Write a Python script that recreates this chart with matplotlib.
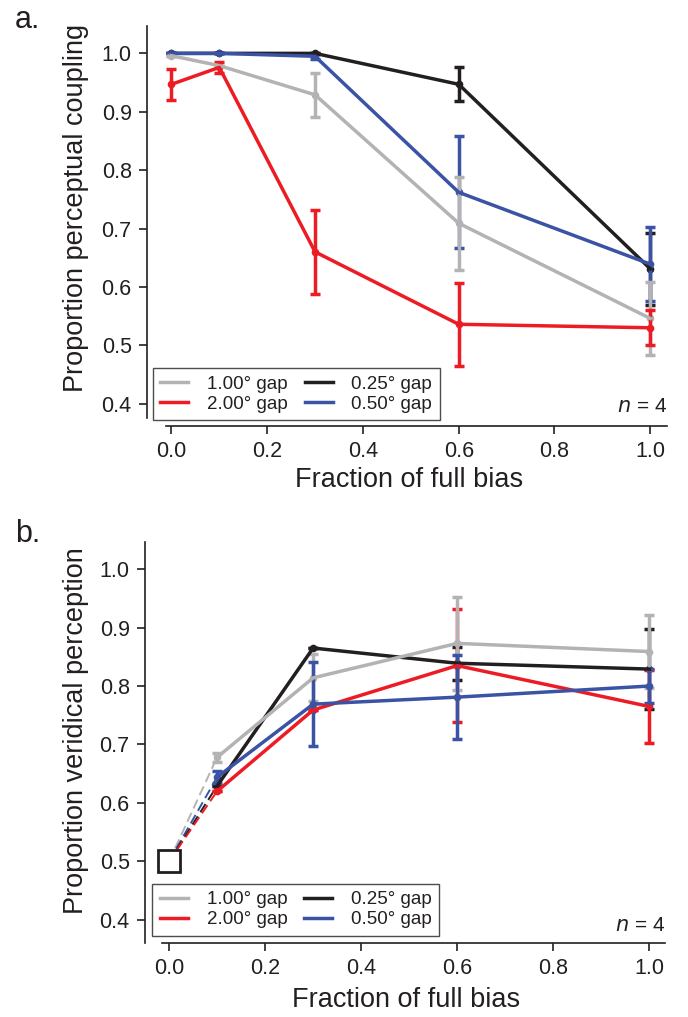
import matplotlib
matplotlib.use("Agg")
import matplotlib.pyplot as plt
from matplotlib.lines import Line2D

plt.rcParams["font.family"] = ["Liberation Sans", "DejaVu Sans"]

# ---------------- data ----------------
gap_labels = ["1.00\u00b0 gap", "2.00\u00b0 gap", "0.25\u00b0 gap", "0.50\u00b0 gap"]
gap_colors = ["#b3b3b3", "#ed1c24", "#231f20", "#3a53a4"]

# panel a: proportion perceptual coupling
x_a = [0.0, 0.1, 0.3, 0.6, 1.0]
gray_a = [0.996, 0.979, 0.929, 0.709, 0.546]
gray_a_err = [0.0, 0.0, 0.038, 0.080, 0.062]
red_a = [0.947, 0.976, 0.660, 0.536, 0.530]
red_a_err = [0.027, 0.010, 0.072, 0.071, 0.030]
black_a = [1.0, 1.0, 1.0, 0.947, 0.631]
black_a_err = [0.0, 0.0, 0.0, 0.029, 0.062]
blue_a = [1.0, 1.0, 0.995, 0.762, 0.639]
blue_a_err = [0.0, 0.0, 0.004, 0.096, 0.063]

# panel b: proportion veridical perception
x_b = [0.1, 0.3, 0.6, 1.0]
gray_b = [0.678, 0.814, 0.873, 0.859]
gray_b_err = [0.008, 0.040, 0.080, 0.063]
red_b = [0.620, 0.759, 0.835, 0.765]
red_b_err = [0.0, 0.0, 0.097, 0.063]
black_b = [0.629, 0.865, 0.839, 0.829]
black_b_err = [0.0, 0.0, 0.028, 0.068]
blue_b = [0.644, 0.769, 0.781, 0.800]
blue_b_err = [0.010, 0.072, 0.072, 0.029]

chance_x, chance_y = 0.0, 0.5
yticks = [0.4, 0.5, 0.6, 0.7, 0.8, 0.9, 1.0]
xticks = [0.0, 0.2, 0.4, 0.6, 0.8, 1.0]

LW = 2.5
TICK_FS = 15.5
LABEL_FS = 19.5
INK = "#231f20"

fig = plt.figure(figsize=(6.88, 10.17), dpi=100)
ax_a = fig.add_axes([0.2408, 0.5893, 0.7294, 0.3852])
ax_b = fig.add_axes([0.2359, 0.0731, 0.7302, 0.3943])


def style_axes(ax, left_out, bottom_out):
    for s in ("top", "right"):
        ax.spines[s].set_visible(False)
    ax.spines["left"].set_position(("outward", left_out))
    ax.spines["bottom"].set_position(("outward", bottom_out))
    for s in ("left", "bottom"):
        ax.spines[s].set_linewidth(1.2)
        ax.spines[s].set_color(INK)
    ax.tick_params(direction="out", length=6, width=1.2, pad=5,
                   labelsize=TICK_FS, color=INK, labelcolor=INK)
    ax.set_xticks(xticks)
    ax.set_xticklabels([f"{t:.1f}" for t in xticks])
    ax.set_yticks(yticks)
    ax.set_yticklabels([f"{t:.1f}" for t in yticks])


def series(ax, x, y, err, color):
    ax.errorbar(x, y, yerr=err, color=color, lw=LW, elinewidth=LW,
                capsize=3.3, capthick=LW, zorder=3)
    ax.plot(x, y, "o", color=color, ms=5.5, mew=0, zorder=3)


def add_legend(ax, anchor):
    handles = [Line2D([], [], color=c, lw=2.5) for c in gap_colors]
    leg = ax.legend(handles, gap_labels, ncol=2, loc="lower left",
                    bbox_to_anchor=anchor, borderaxespad=0, fontsize=13.5,
                    frameon=True, fancybox=False, handlelength=1.5,
                    handletextpad=1.0, columnspacing=0.9, labelspacing=0.15,
                    borderpad=0.4)
    leg.get_frame().set_edgecolor(INK)
    leg.get_frame().set_linewidth(1.0)
    for t in leg.get_texts():
        t.set_color(INK)


# ---------------- panel a ----------------
style_axes(ax_a, 13.5, 5.7)
series(ax_a, x_a, black_a, black_a_err, gap_colors[2])
series(ax_a, x_a, blue_a, blue_a_err, gap_colors[3])
series(ax_a, x_a, gray_a, gray_a_err, gap_colors[0])
series(ax_a, x_a, red_a, red_a_err, gap_colors[1])
ax_a.set_xlim(-0.012, 1.036)
ax_a.set_ylim(0.376, 1.047)
ax_a.set_ylabel("Proportion perceptual coupling", fontsize=LABEL_FS, color=INK)
ax_a.set_xlabel("Fraction of full bias", fontsize=LABEL_FS, color=INK)
ax_a.yaxis.set_label_coords(-0.152, 0.535)
ax_a.xaxis.set_label_coords(0.485, -0.125)
add_legend(ax_a, (-0.026, -0.007))
ax_a.text(1.0, 0.005, "$\\it{n}$ = 4", transform=ax_a.transAxes, ha="right",
          va="bottom", fontsize=15, color=INK)

# ---------------- panel b ----------------
style_axes(ax_b, 12.5, 0)
for yy, c in zip([gray_b[0], blue_b[0], black_b[0], red_b[0]],
                 [gap_colors[0], gap_colors[3], gap_colors[2], gap_colors[1]]):
    ax_b.plot([chance_x, x_b[0]], [chance_y, yy], color=c, lw=1.4,
              dashes=(5, 2.5), zorder=2)
series(ax_b, x_b, black_b, black_b_err, gap_colors[2])
series(ax_b, x_b, red_b, red_b_err, gap_colors[1])
series(ax_b, x_b, gray_b, gray_b_err, gap_colors[0])
series(ax_b, x_b, blue_b, blue_b_err, gap_colors[3])
ax_b.plot([chance_x], [chance_y], marker="s", ms=15.5, mfc="white",
          mec=INK, mew=2, zorder=5, clip_on=False)
ax_b.set_xlim(-0.014, 1.032)
ax_b.set_ylim(0.361, 1.047)
ax_b.set_ylabel("Proportion veridical perception", fontsize=LABEL_FS, color=INK)
ax_b.set_xlabel("Fraction of full bias", fontsize=LABEL_FS, color=INK)
ax_b.yaxis.set_label_coords(-0.145, 0.53)
ax_b.xaxis.set_label_coords(0.485, -0.11)
add_legend(ax_b, (-0.02, 0.017))
ax_b.text(1.0, 0.02, "$\\it{n}$ = 4", transform=ax_b.transAxes, ha="right",
          va="bottom", fontsize=15, color=INK)

fig.text(15 / 688, 1 - 28 / 1017, "a.", fontsize=22, color=INK,
         ha="left", va="baseline")
fig.text(15 / 688, 1 - 542 / 1017, "b.", fontsize=22, color=INK,
         ha="left", va="baseline")

fig.savefig("out.png", dpi=100, facecolor="white")
